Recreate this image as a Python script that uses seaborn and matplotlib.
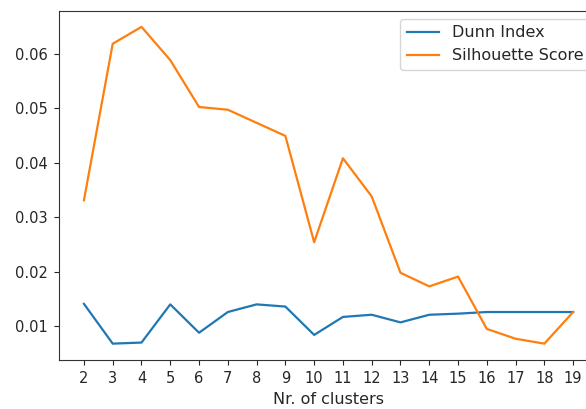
import matplotlib
matplotlib.use("Agg")
import matplotlib.pyplot as plt
import seaborn as sns
import pandas as pd

clusters = list(range(2, 20))
dunn_index = [0.0141, 0.0068, 0.0070, 0.0140, 0.0088, 0.0126, 0.0140, 0.0136, 0.0084,
              0.0117, 0.0121, 0.0107, 0.0121, 0.0123, 0.0126, 0.0126, 0.0126, 0.0126]
silhouette = [0.0331, 0.0618, 0.0649, 0.0588, 0.0502, 0.0497, 0.0473, 0.0449, 0.0254,
              0.0408, 0.0338, 0.0198, 0.0173, 0.0191, 0.0095, 0.0077, 0.0068, 0.0126]
series_names = ["Dunn Index", "Silhouette Score"]

df = pd.DataFrame({
    "k": clusters * 2,
    "value": dunn_index + silhouette,
    "metric": [series_names[0]] * len(clusters) + [series_names[1]] * len(clusters),
})

plt.rcParams.update({
    "font.size": 11.52,
    "axes.labelsize": 11.52,
    "legend.fontsize": 11.52,
    "xtick.labelsize": 10.56,
    "ytick.labelsize": 10.56,
    "axes.linewidth": 0.8,
    "xtick.major.size": 3.6,
    "ytick.major.size": 3.6,
    "xtick.major.width": 0.8,
    "ytick.major.width": 0.8,
    "xtick.major.pad": 4.6,
    "ytick.major.pad": 4.6,
    "axes.edgecolor": "#333333",
    "text.color": "#262626",
    "xtick.color": "#262626",
    "ytick.color": "#262626",
    "axes.labelcolor": "#262626",
})

fig = plt.figure(figsize=(5.86, 4.09), dpi=100)
ax = fig.add_axes([0.1015, 0.1198, 0.9183, 0.8532])
sns.lineplot(data=df, x="k", y="value", hue="metric", palette=["#1f77b4", "#ff7f0e"],
             ax=ax, linewidth=1.6)
ax.set_xticks(clusters)
ax.set_xlim(2 - 0.85, 19 + 0.85)
ax.set_ylim(0.0038, 0.0678)
ax.set_yticks([0.01, 0.02, 0.03, 0.04, 0.05, 0.06])
ax.set_xlabel("Nr. of clusters")
ax.set_ylabel("")
h, l = ax.get_legend_handles_labels()
ax.legend(h, l, loc="upper right")
fig.savefig("out.png", dpi=100)
